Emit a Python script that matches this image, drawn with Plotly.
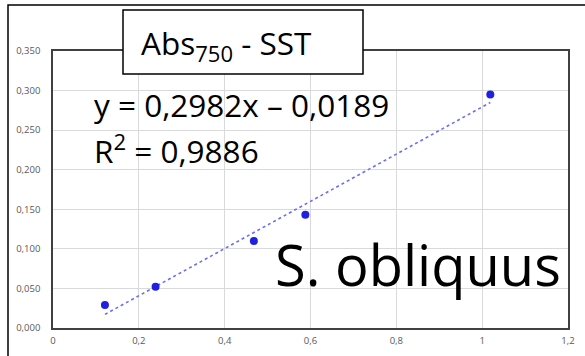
import plotly.graph_objects as go

# Measured absorbance at 750 nm vs. suspended solids (SST)
abs750 = [0.121, 0.239, 0.468, 0.588, 1.019]
sst = [0.029, 0.052, 0.110, 0.143, 0.295]

# Linear fit reported on the chart
slope = 0.2982
intercept = -0.0189
r2 = 0.9886

x_ticks = [0, 0.2, 0.4, 0.6, 0.8, 1.0, 1.2]
y_ticks = [0, 0.05, 0.10, 0.15, 0.20, 0.25, 0.30, 0.35]

W, H = 585, 356
L, R, T, B = 53, 17, 51, 28
pw, ph = W - L - R, H - T - B


def px(x):
    return (x - L) / pw


def py(y):
    return (H - B - y) / ph


FONT = "Open Sans"

fig = go.Figure()

x_fit = [min(abs750), max(abs750)]
y_fit = [slope * v + intercept for v in x_fit]
fig.add_trace(go.Scatter(
    x=x_fit, y=y_fit, mode="lines",
    line=dict(color="#6b6bff", width=1.6, dash="dot"),
    hoverinfo="skip", showlegend=False,
))
fig.add_trace(go.Scatter(
    x=abs750, y=sst, mode="markers",
    marker=dict(color="#2020e0", size=8),
    showlegend=False,
))

fmt = lambda v: f"{v:.4f}".replace(".", ",")
eq_sign = "–" if intercept < 0 else "+"
eq_text = f"y = {fmt(slope)}x {eq_sign} {fmt(abs(intercept))}"
r2_text = f"R<sup>2</sup> = {fmt(r2)}"

fig.add_annotation(
    x=px(92), y=py(128), xref="paper", yref="paper",
    xanchor="left", yanchor="bottom", text=eq_text, showarrow=False,
    font=dict(family=FONT, size=31.5, color="black"),
)
fig.add_annotation(
    x=px(92), y=py(174), xref="paper", yref="paper",
    xanchor="left", yanchor="bottom", text=r2_text, showarrow=False,
    font=dict(family=FONT, size=31.5, color="black"),
)
fig.add_annotation(
    x=px(563), y=py(304), xref="paper", yref="paper",
    xanchor="right", yanchor="bottom", text="S. obliquus", showarrow=False,
    font=dict(family=FONT, size=56, color="black"),
)

# title box
fig.add_shape(
    type="rect", xref="paper", yref="paper",
    x0=px(123), x1=px(363), y0=py(74), y1=py(10),
    line=dict(color="black", width=1.5), fillcolor="white", layer="above",
)
fig.add_annotation(
    x=px(139), y=py(45), xref="paper", yref="paper",
    xanchor="left", yanchor="middle", text="Abs<sub>750</sub> - SST",
    showarrow=False, font=dict(family=FONT, size=31.5, color="black"),
)

# outer chart frame
fig.add_shape(
    type="rect", xref="paper", yref="paper",
    x0=px(8), x1=px(600), y0=py(370), y1=py(5),
    line=dict(color="black", width=1.5), layer="below",
)

axis_common = dict(
    showgrid=True, gridcolor="#d9d9d9", gridwidth=1,
    showline=True, linecolor="#404040", linewidth=1.5, mirror=True,
    zeroline=False, ticks="", automargin=False,
    tickfont=dict(family=FONT, size=9.5, color="#595959"),
)

fig.update_xaxes(range=[0, 1.2], tickvals=x_ticks,
                 ticktext=[("%g" % v).replace(".", ",") for v in x_ticks],
                 ticklabelstandoff=3, **axis_common)
fig.update_yaxes(range=[0, 0.35], tickvals=y_ticks,
                 ticktext=[f"{v:.3f}".replace(".", ",") for v in y_ticks],
                 ticklabelstandoff=9, **axis_common)

fig.update_layout(
    width=W, height=H,
    margin=dict(l=L, r=R, t=T, b=B, pad=0, autoexpand=False),
    paper_bgcolor="white", plot_bgcolor="white",
    separators=",.",
    showlegend=False,
)

fig.write_html("out.html")
